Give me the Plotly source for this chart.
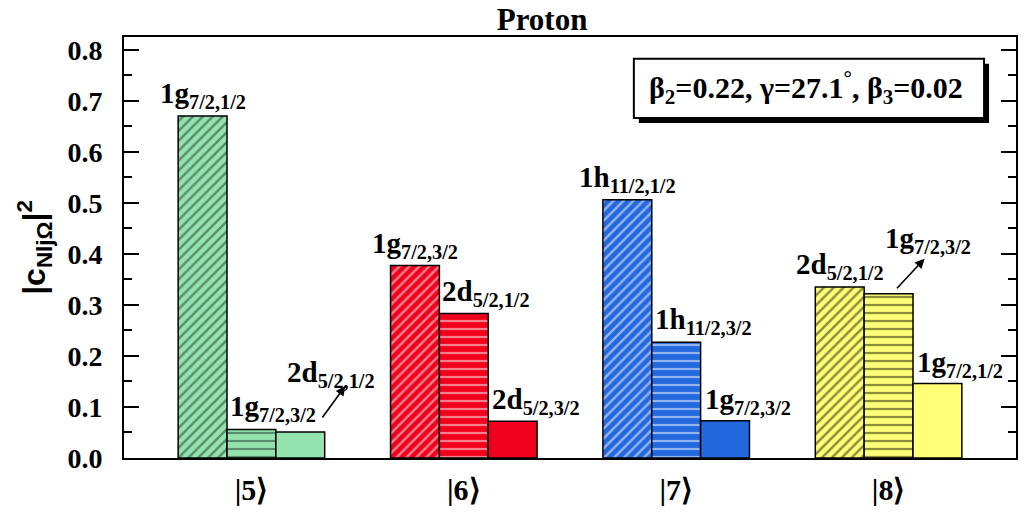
import plotly.graph_objects as go

# ---------------- data ----------------
groups = ["|5⟩", "|6⟩", "|7⟩", "|8⟩"]
bar1_vals = [0.670, 0.377, 0.506, 0.335]
bar2_vals = [0.056, 0.283, 0.227, 0.322]
bar3_vals = [0.051, 0.072, 0.073, 0.146]
bar1_labels = ["1g<sub>7/2,1/2</sub>", "1g<sub>7/2,3/2</sub>", "1h<sub>11/2,1/2</sub>", "2d<sub>5/2,1/2</sub>"]
bar2_labels = ["1g<sub>7/2,3/2</sub>", "2d<sub>5/2,1/2</sub>", "1h<sub>11/2,3/2</sub>", "1g<sub>7/2,3/2</sub>"]
bar3_labels = ["2d<sub>5/2,1/2</sub>", "2d<sub>5/2,3/2</sub>", "1g<sub>7/2,3/2</sub>", "1g<sub>7/2,1/2</sub>"]
y_ticks = [0.0, 0.1, 0.2, 0.3, 0.4, 0.5, 0.6, 0.7, 0.8]

# ---------------- style ----------------
group_colors = ["#95e3b0", "#f0001c", "#2468e0", "#ffff78"]
hatch_colors = ["#1c3a26", "#ffffff", "#ffffff", "#1a1a00"]
SERIF = "Liberation Serif, Times New Roman, serif"
SANS = "Liberation Sans, Arial, sans-serif"
BARGAP = 0.31
W = (1 - BARGAP) / 3
xs = list(range(len(groups)))

fig = go.Figure()
series = [
    (bar1_vals, "/", 7, 0.35),
    (bar2_vals, "-", 8, 0.28),
    (bar3_vals, "", 8, 0.3),
]
for j, (vals, shape, size, sol) in enumerate(series):
    for i, v in enumerate(vals):
        fig.add_trace(go.Bar(
            x=[xs[i]], y=[v], width=W, offset=-1.5 * W + j * W,
            marker=dict(
                color=group_colors[i],
                line=dict(color="black", width=1.5),
                pattern=dict(shape=shape, fgcolor=hatch_colors[i], bgcolor=group_colors[i],
                             size=size, solidity=sol, fillmode="overlay"),
            ),
            showlegend=False, hoverinfo="skip",
        ))

lab_font = dict(family=SERIF, size=29, color="black", weight="bold")
ann = []
# bar1 labels: centered above
for i, (v, t) in enumerate(zip(bar1_vals, bar1_labels)):
    ann.append(dict(x=xs[i] - W, y=v, text=t, showarrow=False, xanchor="center",
                    yanchor="bottom", yshift=1, font=lab_font))
# bar2 labels: left aligned at bar left edge (group 8 uses arrow)
for i, (v, t) in enumerate(zip(bar2_vals, bar2_labels)):
    if i == 3:
        ann.append(dict(x=xs[i], y=v, text=t, showarrow=False, xanchor="center",
                        yanchor="bottom", xshift=39, yshift=34, font=lab_font))
        ann.append(dict(x=xs[i], y=v, text="", showarrow=True, xshift=36, yshift=35,
                        ax=-29, ay=31, arrowhead=2, arrowsize=1.2, arrowwidth=1.6,
                        arrowcolor="black"))
    else:
        ann.append(dict(x=xs[i] - W / 2, y=v, text=t, showarrow=False, xanchor="left",
                        yanchor="bottom", xshift=1, yshift=1, font=lab_font))
# bar3 labels (group 5 uses arrow)
for i, (v, t) in enumerate(zip(bar3_vals, bar3_labels)):
    if i == 0:
        ann.append(dict(x=xs[i] + W, y=v, text=t, showarrow=False, xanchor="center",
                        yanchor="bottom", xshift=31, yshift=38, font=lab_font))
        ann.append(dict(x=xs[i] + W, y=v, text="", showarrow=True, xshift=45, yshift=46,
                        ax=-24, ay=33, arrowhead=2, arrowsize=1.2, arrowwidth=1.6,
                        arrowcolor="black"))
    else:
        ann.append(dict(x=xs[i] + W / 2, y=v, text=t, showarrow=False, xanchor="left",
                        yanchor="bottom", xshift=2, yshift=0, font=lab_font))

# plot area in pixels: x 124..1018, y 37..463
def px(x):
    return (x - 124) / 894
def py(y):
    return (463 - y) / 426

# parameter box text
ann.append(dict(xref="paper", yref="paper", x=px(808), y=py(88), xanchor="center", yanchor="middle",
                text="β<sub>2</sub>=0.22, γ=27.1<sup>°</sup>, β<sub>3</sub>=0.02", showarrow=False,
                font=dict(family=SERIF, size=30, color="black", weight="bold")))

shapes = [
    dict(type="rect", xref="paper", yref="paper", x0=px(640), x1=px(991), y0=py(124), y1=py(64),
         fillcolor="black", line=dict(width=0), layer="above"),
    dict(type="rect", xref="paper", yref="paper", x0=px(635), x1=px(986), y0=py(119), y1=py(59),
         fillcolor="white", line=dict(color="black", width=2), layer="above"),
]

fig.update_layout(
    width=1024, height=512,
    margin=dict(l=124, r=6, t=37, b=49),
    paper_bgcolor="white", plot_bgcolor="white",
    barmode="overlay",
    title=dict(text="Proton", x=px(543), xref="paper", xanchor="center",
               y=1 - 19 / 512, yref="container", yanchor="middle",
               font=dict(family=SERIF, size=31, color="black", weight="bold")),
    annotations=ann, shapes=shapes,
    xaxis=dict(range=[-0.6, 3.6], tickvals=xs, ticktext=groups, showline=True, mirror=True,
               linecolor="black", linewidth=2, ticks="", showgrid=False, zeroline=False,
               tickfont=dict(family=SERIF, size=30, color="black", weight="bold"),
               ticklabelstandoff=4),
    yaxis=dict(range=[0, 0.825], tickvals=y_ticks, tickformat=".1f", showline=True,
               mirror="ticks", linecolor="black", linewidth=2, ticks="inside", ticklen=15,
               tickwidth=2, tickcolor="black", showgrid=False, zeroline=False,
               minor=dict(dtick=0.05, tick0=0, ticks="inside", ticklen=8, tickwidth=2,
                          tickcolor="black", showgrid=False),
               tickfont=dict(family=SERIF, size=28, color="black", weight="bold"),
               ticklabelstandoff=14,
               title=dict(text="|c<sub>NljΩ</sub>|<sup>2</sup>", standoff=12,
                          font=dict(family=SANS, size=32, color="black", weight="bold"))),
)

fig.write_html("out.html")
